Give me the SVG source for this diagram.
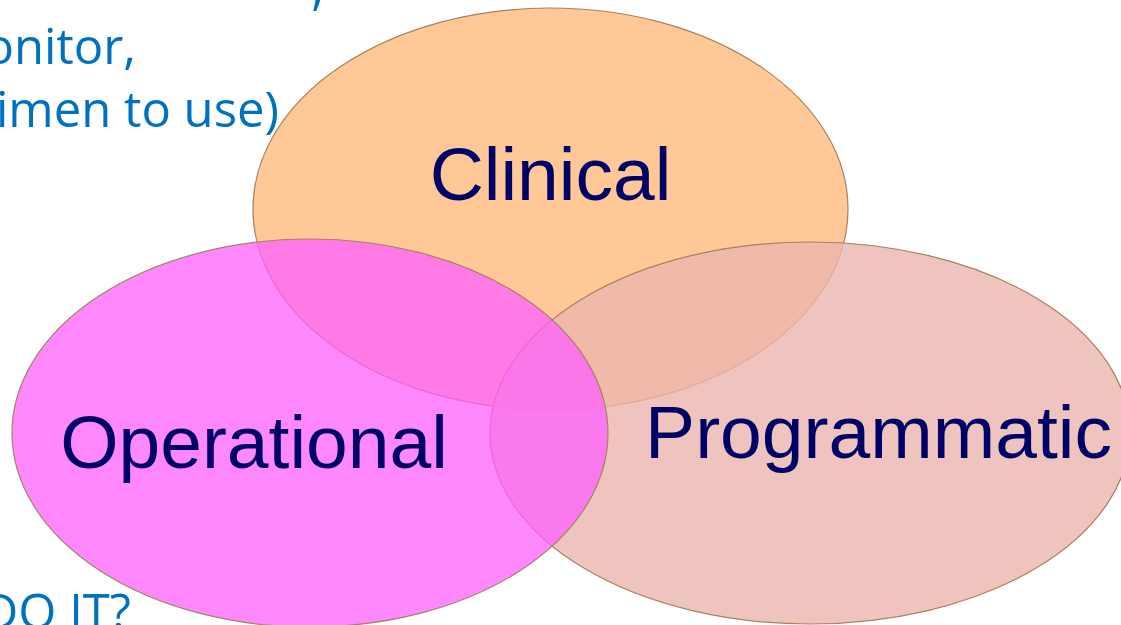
<svg xmlns="http://www.w3.org/2000/svg" width="1121" height="625" viewBox="0 0 1121 625">
  <style>
    .ell { stroke: #A58260; stroke-width: 1.2; }
    .label { font-family: "Liberation Sans", Arial, sans-serif; font-size: 75px; fill: #000066; text-anchor: middle; }
    .note { font-family: "Open Sans", "Noto Sans", sans-serif; font-size: 49px; fill: #0070C0; text-anchor: end; }
  </style>
  <rect width="1121" height="625" fill="#FFFFFF"/>
  <g id="notes">
    <text class="note" x="324" y="5">,</text>
    <text class="note" x="136" y="64">onitor,</text>
    <text class="note" x="279" y="127">imen to use)</text>
    <text class="note" x="131" y="629">DO IT?</text>
  </g>
  <g id="connectors"></g>
  <g id="clinical">
    <ellipse class="ell" cx="550.5" cy="209" rx="297.5" ry="201" fill="#FFC896"/>
  </g>
  <g id="programmatic">
    <ellipse class="ell" cx="810" cy="433" rx="320" ry="191" fill="#ECB5AE" fill-opacity="0.8"/>
  </g>
  <g id="operational">
    <ellipse class="ell" cx="310" cy="433" rx="298" ry="194" fill="#FF60FF" fill-opacity="0.75"/>
  </g>
  <g id="labels">
    <text class="label" x="550.5" y="200">Clinical</text>
    <text class="label" x="254" y="468">Operational</text>
    <text class="label" x="878.5" y="458">Programmatic</text>
  </g>
</svg>
